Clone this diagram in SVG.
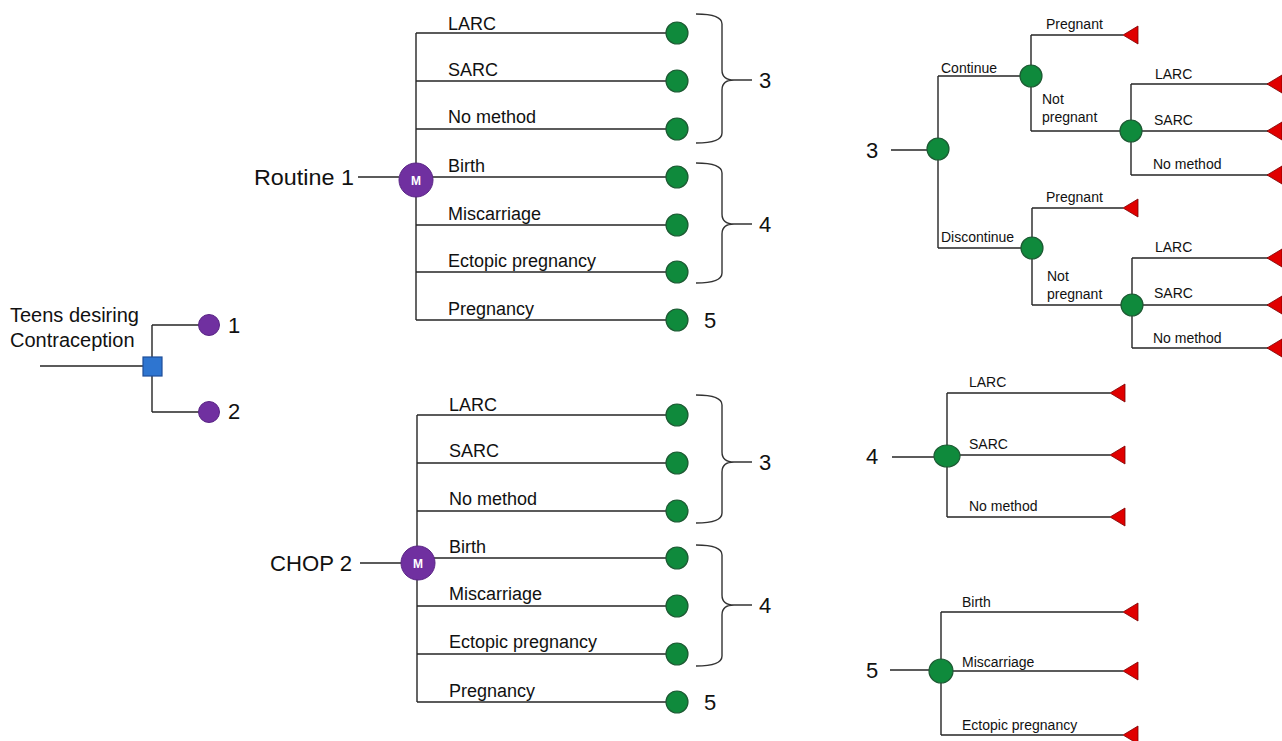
<svg xmlns="http://www.w3.org/2000/svg" xmlns:xlink="http://www.w3.org/1999/xlink" width="1282" height="741" viewBox="0 0 1282 741">
<style>
.ln{stroke:#262626;stroke-width:1.4;fill:none}
.br{stroke:#333;stroke-width:1.4;fill:none}
.ch{fill:#0f8a3c;stroke:#1d5a33;stroke-width:1.2}
.mk{fill:#7030a0;stroke:#5a2585;stroke-width:1}
.tri{fill:#e00000;stroke:#7a0000;stroke-width:0.8}
.t{font-family:"Liberation Sans",Arial,sans-serif;fill:#111}
.big{font-size:22px}
.mid{font-size:18px}
.sm{font-size:14px}
.m{font-family:"Liberation Sans",Arial,sans-serif;font-size:12px;font-weight:bold;fill:#fff}
</style>
<defs>
<path id="tr" class="tri" d="M0,0 L15,-9 L15,9 Z"/>
</defs>
<rect width="1282" height="741" fill="#fff"/>

<g id="connectors">
<!-- left -->
<path class="ln" d="M40,366 H143 M152,325 V412 M152,325 H199 M152,412 H199"/>
<!-- Routine 1 -->
<path class="ln" d="M358,177 H399 M416,33 V320 M416,33 H666 M416,81 H666 M416,129 H666 M416,177 H666 M416,225 H666 M416,272 H666 M416,320 H666"/>
<!-- CHOP 2 -->
<path class="ln" d="M360,563 H401 M417,415 V702 M417,415 H666 M417,463 H666 M417,511 H666 M417,558 H666 M417,606 H666 M417,654 H666 M417,702 H666"/>
<!-- braces -->
<path class="br" d="M696,14 Q722,14 722,24 V70 Q722,80 734,80 Q722,80 722,90 V133 Q722,143 696,143 M734,80 H752"/>
<path class="br" d="M696,163 Q722,163 722,173 V214 Q722,224 734,224 Q722,224 722,234 V273 Q722,283 696,283 M734,224 H752"/>
<path class="br" d="M696,395 Q722,395 722,405 V452 Q722,462 734,462 Q722,462 722,472 V513 Q722,523 696,523 M734,462 H752"/>
<path class="br" d="M696,545 Q722,545 722,555 V595 Q722,605 734,605 Q722,605 722,615 V656 Q722,666 696,666 M734,605 H752"/>
<!-- tree 3 -->
<path class="ln" d="M891,150 H927 M938,76 V248 M938,76 H1020 M938,248 H1021"/>
<path class="ln" d="M1031,35 V131 M1031,35 H1123 M1031,131 H1120"/>
<path class="ln" d="M1131,84 V175 M1131,84 H1268 M1142,131 H1268 M1131,175 H1268"/>
<path class="ln" d="M1032,208 V305 M1032,208 H1123 M1032,305 H1121"/>
<path class="ln" d="M1132,258 V348 M1132,258 H1268 M1143,305 H1268 M1132,348 H1268"/>
<!-- tree 4 -->
<path class="ln" d="M892,457 H934 M947,393 V517 M947,393 H1110 M960,455 H1110 M947,517 H1110"/>
<!-- tree 5 -->
<path class="ln" d="M890,670 H929 M941,612 V735 M941,612 H1123 M953,671 H1123 M941,735 H1123"/>
</g>

<g id="root">
<text class="t" x="10" y="322" style="font-size:20px">Teens desiring</text>
<text class="t" x="10" y="347" style="font-size:20px">Contraception</text>
<rect x="143" y="357" width="19" height="19" fill="#2e75d0" stroke="#1f4e99" stroke-width="1.2"/>
</g>
<g id="n1"><circle class="mk" cx="209" cy="325" r="10.5"/><text class="t big" x="228" y="333">1</text></g>
<g id="n2"><circle class="mk" cx="209" cy="412" r="10.5"/><text class="t big" x="228" y="419">2</text></g>

<g id="routine1">
<text class="t big" x="254" y="185" textLength="100" lengthAdjust="spacingAndGlyphs">Routine 1</text>
<circle class="mk" cx="416" cy="180" r="17"/>
<text class="m" x="416" y="185" text-anchor="middle">M</text>
<text class="t mid" x="448" y="30">LARC</text>
<text class="t mid" x="448" y="76">SARC</text>
<text class="t mid" x="448" y="123">No method</text>
<text class="t mid" x="448" y="172">Birth</text>
<text class="t mid" x="448" y="220">Miscarriage</text>
<text class="t mid" x="448" y="267">Ectopic pregnancy</text>
<text class="t mid" x="448" y="315">Pregnancy</text>
</g>
<g id="routine1-ends">
<circle class="ch" cx="677" cy="33" r="11"/>
<circle class="ch" cx="677" cy="81" r="11"/>
<circle class="ch" cx="677" cy="129" r="11"/>
<circle class="ch" cx="677" cy="177" r="11"/>
<circle class="ch" cx="677" cy="225" r="11"/>
<circle class="ch" cx="677" cy="272" r="11"/>
<circle class="ch" cx="677" cy="320" r="11"/>
<text class="t big" x="759" y="88">3</text>
<text class="t big" x="759" y="232">4</text>
<text class="t big" x="704" y="328">5</text>
</g>

<g id="chop2">
<text class="t big" x="270" y="571" textLength="82" lengthAdjust="spacingAndGlyphs">CHOP 2</text>
<circle class="mk" cx="418" cy="563" r="17"/>
<text class="m" x="418" y="568" text-anchor="middle">M</text>
<text class="t mid" x="449" y="411">LARC</text>
<text class="t mid" x="449" y="457">SARC</text>
<text class="t mid" x="449" y="505">No method</text>
<text class="t mid" x="449" y="553">Birth</text>
<text class="t mid" x="449" y="600">Miscarriage</text>
<text class="t mid" x="449" y="648">Ectopic pregnancy</text>
<text class="t mid" x="449" y="697">Pregnancy</text>
</g>
<g id="chop2-ends">
<circle class="ch" cx="677" cy="415" r="11"/>
<circle class="ch" cx="677" cy="463" r="11"/>
<circle class="ch" cx="677" cy="511" r="11"/>
<circle class="ch" cx="677" cy="558" r="11"/>
<circle class="ch" cx="677" cy="606" r="11"/>
<circle class="ch" cx="677" cy="654" r="11"/>
<circle class="ch" cx="677" cy="702" r="11"/>
<text class="t big" x="759" y="470">3</text>
<text class="t big" x="759" y="613">4</text>
<text class="t big" x="704" y="710">5</text>
</g>

<g id="tree3">
<text class="t big" x="866" y="158">3</text>
<circle class="ch" cx="938" cy="149" r="11"/>
<text class="t sm" x="941" y="73">Continue</text>
<text class="t sm" x="941" y="242">Discontinue</text>
</g>
<g id="tree3-continue">
<circle class="ch" cx="1031" cy="76" r="11"/>
<text class="t sm" x="1046" y="29">Pregnant</text>
<text class="t sm" x="1042" y="104">Not</text>
<text class="t sm" x="1042" y="122">pregnant</text>
<use xlink:href="#tr" x="1123" y="35"/>
</g>
<g id="tree3-continue-np">
<circle class="ch" cx="1131" cy="131" r="11"/>
<text class="t sm" x="1155" y="79">LARC</text>
<text class="t sm" x="1154" y="125">SARC</text>
<text class="t sm" x="1153" y="169">No method</text>
<use xlink:href="#tr" x="1267" y="84"/>
<use xlink:href="#tr" x="1267" y="131"/>
<use xlink:href="#tr" x="1267" y="175"/>
</g>
<g id="tree3-discontinue">
<circle class="ch" cx="1032" cy="248" r="11"/>
<text class="t sm" x="1046" y="202">Pregnant</text>
<text class="t sm" x="1047" y="281">Not</text>
<text class="t sm" x="1047" y="299">pregnant</text>
<use xlink:href="#tr" x="1123" y="208"/>
</g>
<g id="tree3-discontinue-np">
<circle class="ch" cx="1132" cy="305" r="11"/>
<text class="t sm" x="1155" y="252">LARC</text>
<text class="t sm" x="1154" y="298">SARC</text>
<text class="t sm" x="1153" y="343">No method</text>
<use xlink:href="#tr" x="1267" y="258"/>
<use xlink:href="#tr" x="1267" y="305"/>
<use xlink:href="#tr" x="1267" y="348"/>
</g>

<g id="tree4">
<text class="t big" x="866" y="464">4</text>
<ellipse class="ch" cx="947" cy="456" rx="13" ry="11"/>
<text class="t sm" x="969" y="387">LARC</text>
<text class="t sm" x="969" y="449">SARC</text>
<text class="t sm" x="969" y="511">No method</text>
<use xlink:href="#tr" x="1110" y="393"/>
<use xlink:href="#tr" x="1110" y="455"/>
<use xlink:href="#tr" x="1110" y="517"/>
</g>

<g id="tree5">
<text class="t big" x="866" y="678">5</text>
<circle class="ch" cx="941" cy="671" r="12"/>
<text class="t sm" x="962" y="607">Birth</text>
<text class="t sm" x="962" y="667">Miscarriage</text>
<text class="t sm" x="962" y="730">Ectopic pregnancy</text>
<use xlink:href="#tr" x="1123" y="612"/>
<use xlink:href="#tr" x="1123" y="671"/>
<use xlink:href="#tr" x="1123" y="735"/>
</g>
</svg>
